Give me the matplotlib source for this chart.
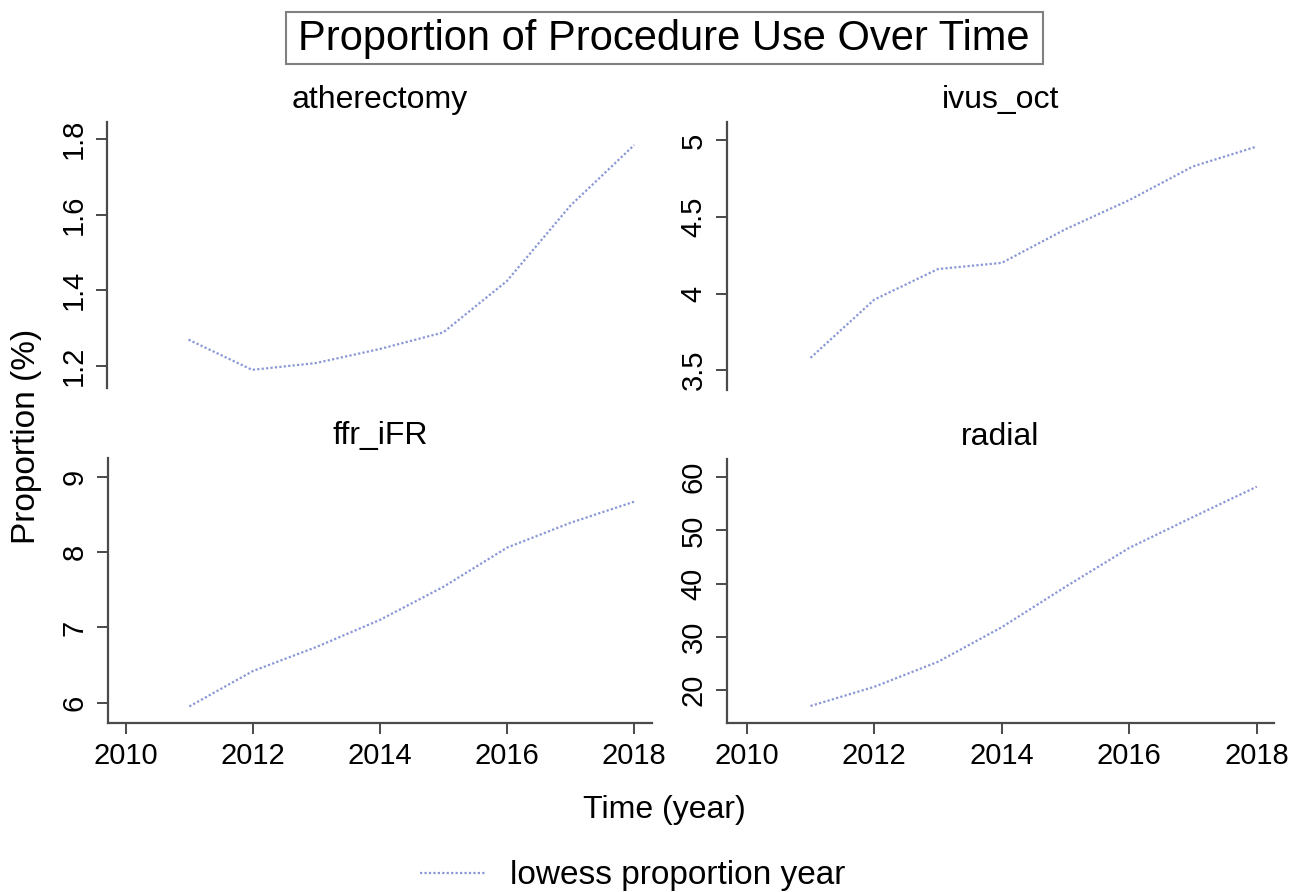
import matplotlib
matplotlib.use("Agg")
import matplotlib.pyplot as plt
from matplotlib.patches import Rectangle

plt.rcParams['font.family'] = ['Liberation Sans', 'DejaVu Sans']

years = [2011, 2012, 2013, 2014, 2015, 2016, 2017, 2018]
atherectomy = [1.269, 1.189, 1.207, 1.244, 1.288, 1.424, 1.624, 1.784]
ivus_oct = [3.58, 3.96, 4.16, 4.20, 4.42, 4.61, 4.83, 4.96]
ffr_ifr = [5.95, 6.42, 6.74, 7.10, 7.54, 8.06, 8.39, 8.67]
radial = [17.0, 20.6, 25.3, 31.8, 39.4, 46.7, 52.5, 58.2]

panel_names = ["atherectomy", "ivus_oct", "ffr_iFR", "radial"]
panel_values = [atherectomy, ivus_oct, ffr_ifr, radial]
y_ticks = [[1.2, 1.4, 1.6, 1.8], [3.5, 4, 4.5, 5], [6, 7, 8, 9], [20, 30, 40, 50, 60]]
y_labels = [["1.2", "1.4", "1.6", "1.8"], ["3.5", "4", "4.5", "5"],
            ["6", "7", "8", "9"], ["20", "30", "40", "50", "60"]]
y_lims = [(1.141, 1.845), (3.37, 5.12), (5.73, 9.25), (13.8, 63.4)]
x_ticks = [2010, 2012, 2014, 2016, 2018]

W, H = 1290, 892
fig = plt.figure(figsize=(W / 100, H / 100), dpi=100)


def box(l, t, r, b):
    return [l / W, 1 - b / H, (r - l) / W, (b - t) / H]


boxes = [box(107, 122, 652, 388), box(727, 122, 1274, 390),
         box(108, 458, 652, 723), box(727, 459, 1274, 723)]
x_lims = [(2009.72, 2018.28), (2009.69, 2018.27), (2009.72, 2018.28), (2009.69, 2018.27)]

line_color = "#8a97d6"
axis_color = "#4a4a4a"

for i, name in enumerate(panel_names):
    ax = fig.add_axes(boxes[i])
    ax.plot(years, panel_values[i], color=line_color, linestyle=(0, (1, 1)), linewidth=1.6)
    ax.set_xlim(x_lims[i])
    ax.set_ylim(y_lims[i])
    ax.set_yticks(y_ticks[i])
    ax.set_yticklabels(y_labels[i], rotation=90, va="center")
    ax.spines["top"].set_visible(False)
    ax.spines["right"].set_visible(False)
    ax.spines["left"].set_color(axis_color)
    ax.spines["left"].set_linewidth(1.6)
    ax.tick_params(axis="y", length=8, width=1.4, color=axis_color, labelsize=21, pad=6)
    if i < 2:
        ax.spines["bottom"].set_visible(False)
        ax.set_xticks([])
    else:
        ax.spines["bottom"].set_color(axis_color)
        ax.spines["bottom"].set_linewidth(1.6)
        ax.set_xticks(x_ticks)
        ax.tick_params(axis="x", length=8, width=1.4, color=axis_color, labelsize=21, pad=6)
    ax.set_title(name, fontsize=23, pad=10)

# overall title inside a box
fig.patches.append(Rectangle((286 / W, 1 - 64 / H), (1043 - 286) / W, (64 - 12) / H,
                             transform=fig.transFigure, facecolor="white",
                             edgecolor="#808080", linewidth=1.5))
fig.text(664 / W, 1 - 50 / H, "Proportion of Procedure Use Over Time",
         ha="center", va="baseline", fontsize=30)

fig.text(27 / W, 1 - 436 / H, "Proportion (%)", rotation=90, ha="center", va="center", fontsize=24)
fig.text(664 / W, 1 - 818 / H, "Time (year)", ha="center", va="baseline", fontsize=23)

# legend
fig.lines.append(plt.Line2D([420 / W, 485 / W], [1 - 873 / H, 1 - 873 / H],
                            transform=fig.transFigure, color=line_color,
                            linestyle=(0, (1, 1)), linewidth=1.6))
fig.text(510 / W, 1 - 884 / H, "lowess proportion year", ha="left", va="baseline", fontsize=24)

fig.savefig("out.png", dpi=100, facecolor="white")
